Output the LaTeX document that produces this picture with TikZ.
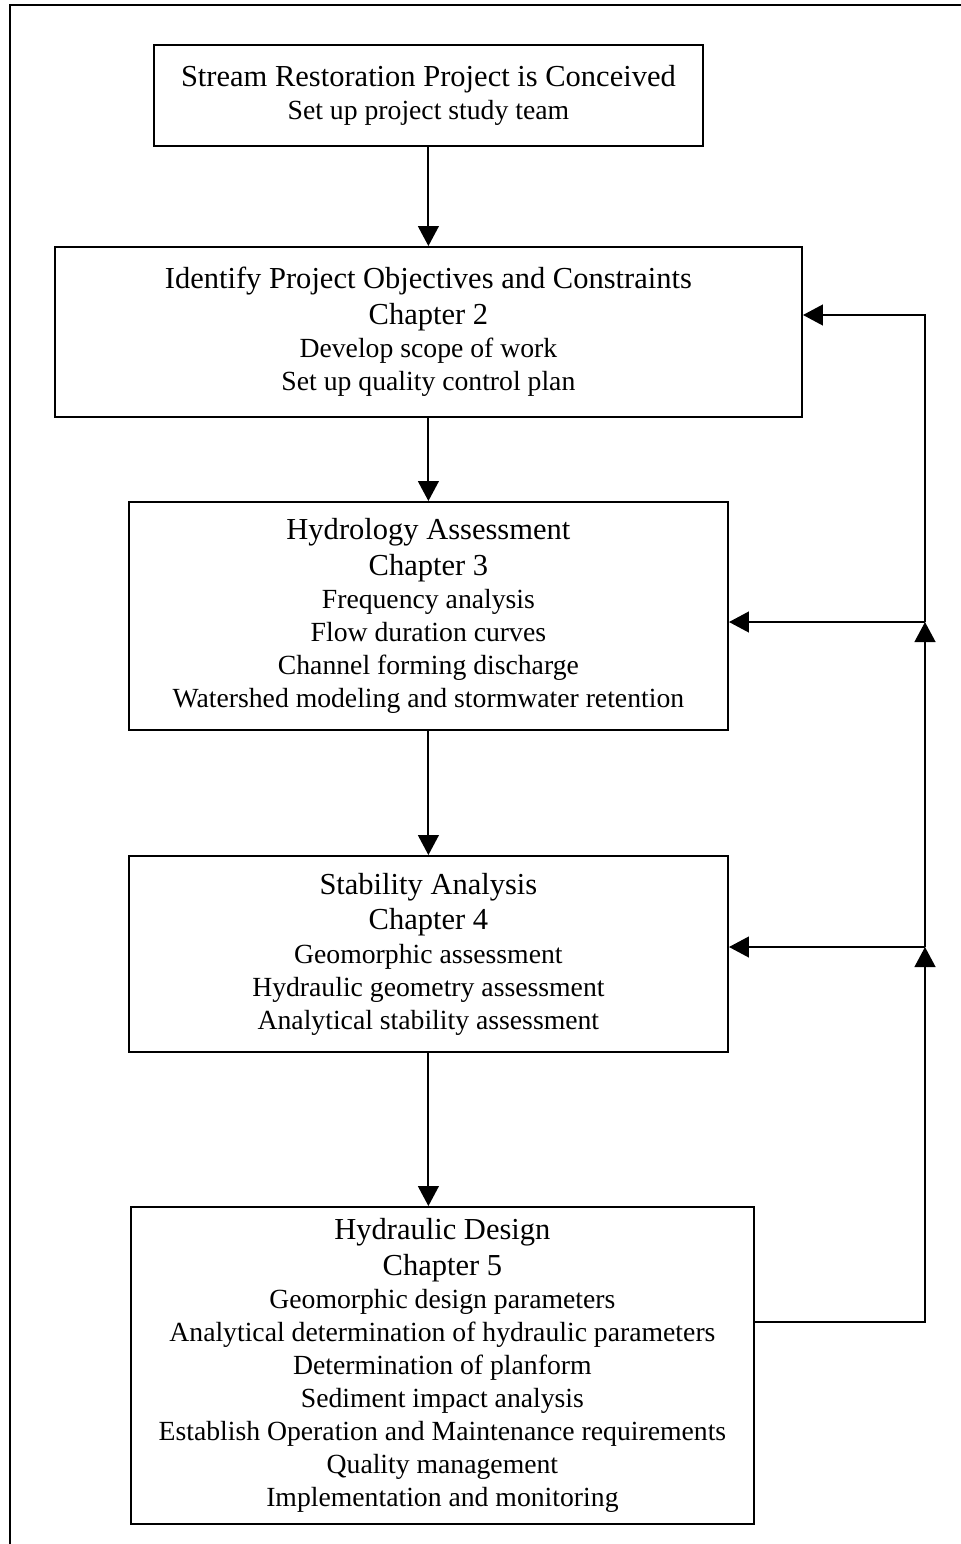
\documentclass[tikz,border=0pt]{standalone}
\usepackage{fontspec}
\setmainfont{Liberation Serif}
\usetikzlibrary{arrows.meta}
\newcommand{\hd}[1]{{\fontsize{21.7}{25.6}\selectfont #1}}
\tikzset{
    every node/.style={font=\fontsize{19.7}{23.5}\selectfont}
}
\tikzset{stage/.style={rectangle, draw, line width=1.4pt, align=center, inner sep=0mm}}
\tikzset{link/.style={line width=1.4pt, -{Triangle[length=0.5cm, width=0.52cm]}}}

\begin{document}
\begin{tikzpicture}
    \useasboundingbox (0cm, 0cm) rectangle (24.025cm, -38.6cm);
    \draw[line width=1.4pt] (0.25cm, -38.6cm) -- (0.25cm, -0.125cm) -- (24.025cm, -0.125cm);

    \node (b1) [stage, minimum width=13.73cm, minimum height=2.53cm] at (10.71cm, -2.39cm) {\hd{Stream Restoration Project is Conceived}\\Set up project study team};
    \node (b2) [stage, minimum width=18.68cm, minimum height=4.25cm] at (10.71cm, -8.3cm) {\hd{Identify Project Objectives and Constraints}\\[2pt]\hd{Chapter 2}\\Develop scope of work\\Set up quality control plan};
    \node (b3) [stage, minimum width=14.98cm, minimum height=5.7cm] at (10.71cm, -15.4cm) {\hd{Hydrology Assessment}\\[2pt]\hd{Chapter 3}\\Frequency analysis\\Flow duration curves\\Channel forming discharge\\Watershed modeling and stormwater retention};
    \node (b4) [stage, minimum width=14.98cm, minimum height=4.9cm] at (10.71cm, -23.85cm) {\hd{Stability Analysis}\\[2pt]\hd{Chapter 4}\\Geomorphic assessment\\Hydraulic geometry assessment\\Analytical stability assessment};
    \node (b5) [stage, minimum width=15.58cm, minimum height=7.93cm] at (11.06cm, -34.14cm) {\hd{Hydraulic Design}\\[2pt]\hd{Chapter 5}\\Geomorphic design parameters\\Analytical determination of hydraulic parameters\\Determination of planform\\Sediment impact analysis\\Establish Operation and Maintenance requirements\\Quality management\\Implementation and monitoring};

    \coordinate (f2) at (23.125cm, -7.875cm);
    \coordinate (f3) at (23.125cm, -15.55cm);
    \coordinate (f4) at (23.125cm, -23.675cm);
    \coordinate (f5) at (23.125cm, -33.05cm);

    \draw[link] (b1) -- (b2);
    \draw[link] (b2) -- (b3);
    \draw[link] (b3) -- (b4);
    \draw[link] (b4.south) -- (b4.south |- b5.north);

    \draw[link] (b5.east |- f5) -- (f5) -- (f4);
    \draw[link] (f4) -- (f3);
    \draw[link] (f4) -- (f4 -| b4.east);
    \draw[link] (f3) -- (f3 -| b3.east);
    \draw[link] (f3) -- (f2) -- (f2 -| b2.east);
\end{tikzpicture}
\end{document}
